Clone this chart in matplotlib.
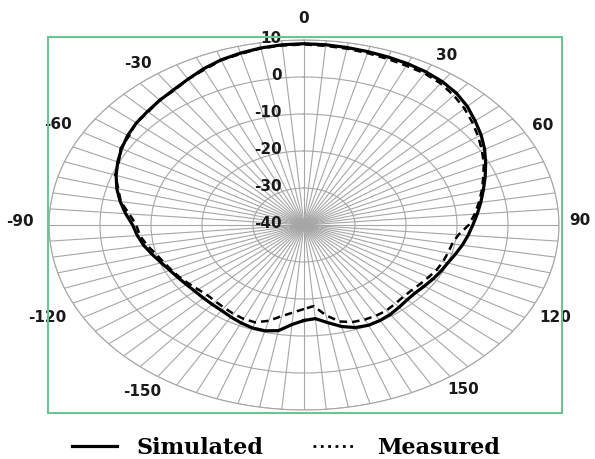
import numpy as np
import matplotlib.pyplot as plt
from matplotlib.lines import Line2D
from matplotlib.patches import Rectangle
from matplotlib.transforms import offset_copy

# angle (deg, clockwise from 0 at top) and gain (dB)
angles = list(range(-180, 180, 5))

simulated = [-14.2, -13.0, -11.0, -10.4, -10.4, -10.8, -11.3, -11.8, -12.0, -12.1,
             -12.1, -11.9, -11.5, -11.0, -10.2, -9.2, -8.1, -7.2, -6.4, -4.9,
             -3.4, -2.0, -0.8, 0.3, 1.3, 2.2, 2.9, 3.4, 4.0, 4.6,
             5.5, 6.6, 7.5, 8.1, 8.6, 8.9, 9.0, 8.9, 8.7, 8.5,
             8.3, 8.1, 7.8, 7.3, 6.5, 5.3, 3.8, 2.4, 0.9, -0.7,
             -2.2, -3.6, -4.8, -5.9, -6.9, -7.7, -8.5, -9.3, -10.0, -10.4,
             -10.8, -11.2, -11.5, -11.4, -11.0, -10.5, -10.2, -10.1, -10.5, -11.6,
             -13.2, -14.6]

measured = [-17.3, -16.3, -15.0, -13.2, -12.0, -12.0, -12.3, -12.7, -13.0, -13.2,
            -12.9, -12.4, -11.8, -11.3, -10.7, -9.9, -8.7, -7.7, -7.1, -5.6,
            -3.5, -2.3, -0.6, 0.1, 1.5, 1.9, 3.0, 3.2, 4.1, 4.4,
            5.5, 6.3, 7.4, 7.9, 8.5, 8.7, 8.8, 8.6, 8.4, 8.1,
            7.8, 7.5, 7.3, 6.7, 5.7, 4.5, 3.1, 1.7, 0.3, -1.1,
            -2.6, -3.9, -5.2, -6.4, -7.7, -9.6, -10.5, -10.8, -11.0, -11.3,
            -11.8, -12.2, -12.5, -12.5, -12.2, -11.8, -11.7, -11.8, -12.1, -13.0,
            -15.2, -18.0]

r_ticks = [-40, -30, -20, -10, 0, 10]
theta_labels = ['0', '30', '60', '90', '120', '150', '-150', '-120', '-90', '-60', '-30']
# where the angle labels sit (angle, radius in dB units), as Excel placed them
label_theta = [0, 31.4, 60.1, 88.6, 117, 145, -144.7, -116.5, -89, -60.7, -36.6]
label_r = [15.9, 13.8, 14.1, 14.1, 15.3, 14.3, 15.0, 16.3, 15.7, 15.3, 14.5]

fig = plt.figure(figsize=(5.95, 4.59), dpi=100)

# green plot-area frame
fig.patches.append(Rectangle((48 / 595, 1 - 413 / 459), 514 / 595, 376 / 459,
                             transform=fig.transFigure, fill=False,
                             edgecolor='#6cc493', linewidth=1.5))

ax = fig.add_axes([49 / 595, 49 / 459, 510 / 595, 370 / 459], projection='polar')
ax.set_aspect('auto')
ax.set_theta_zero_location('N')
ax.set_theta_direction(-1)
ax.set_rlim(-40, 10)
ax.set_yticks(r_ticks)
ax.set_yticklabels([])
ax.set_thetagrids(list(range(0, 360, 5)), [])
ax.grid(color='#a6a6a6', linewidth=0.8)
ax.spines['polar'].set_color('#a6a6a6')
ax.spines['polar'].set_linewidth(0.8)
ax.patch.set_alpha(0)

th = np.deg2rad(angles + [angles[0]])
ax.plot(th, measured + [measured[0]], color='black', linewidth=1.8,
        linestyle=(0, (3, 2)))
ax.plot(th, simulated + [simulated[0]], color='black', linewidth=2.3)

for lab, t, r in zip(theta_labels, label_theta, label_r):
    ax.text(np.deg2rad(t), r, lab, ha='center', va='center', fontsize=11,
            fontweight='bold', color='#1a1a1a', clip_on=False)

lab_tr = offset_copy(ax.transData, fig=fig, x=-16, y=1, units='points')
for v in r_ticks:
    ax.text(0, v, str(v), transform=lab_tr, ha='right', va='center',
            fontsize=11, fontweight='bold', color='#1a1a1a', zorder=5)

handles = [Line2D([], [], color='black', linewidth=2.3),
           Line2D([], [], color='black', linewidth=2, linestyle=':')]
fig.legend(handles, ['Simulated', 'Measured'], loc='center',
           bbox_to_anchor=(0.481, 0.024), ncol=2, frameon=False,
           prop={'family': 'DejaVu Serif', 'weight': 'bold', 'size': 16},
           handlelength=2.0, handletextpad=0.9, columnspacing=2.2)

fig.savefig('out.png', dpi=100)
